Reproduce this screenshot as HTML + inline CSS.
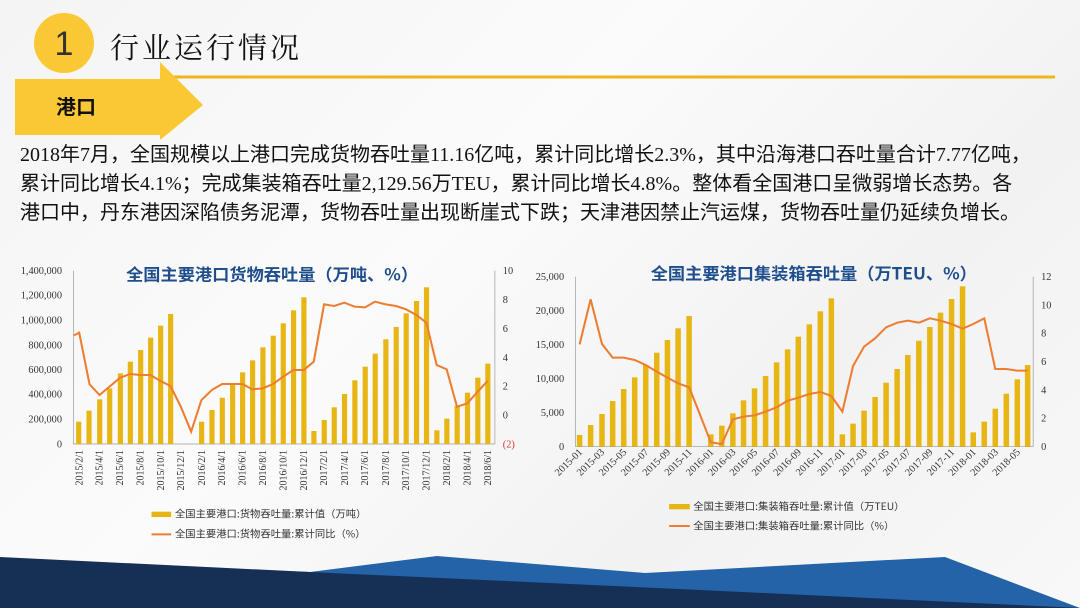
<!DOCTYPE html>
<html><head><meta charset="utf-8"><style>
html,body{margin:0;padding:0}
body{width:1080px;height:608px;position:relative;overflow:hidden;background:linear-gradient(135deg,#f4f4f4,#fbfbfb 40%,#f2f2f2 70%,#f8f8f8);font-family:"Liberation Sans","Noto Sans CJK SC",sans-serif}
.abs{position:absolute}
#para{left:20px;top:141px;width:1060px;font-size:20px;line-height:29px;color:#111;font-family:"Liberation Serif","Noto Sans CJK SC",sans-serif;white-space:nowrap}
</style></head><body>
<svg class="abs" style="left:0;top:0" width="1080" height="608">
<polygon points="0,560 310,572 437,556 645,573 945,557 1080,608 0,608" fill="#2563a8"/>
<polygon points="0,557 310,572 700,590 1080,608 0,608" fill="#152f55"/>
<line x1="165" y1="77" x2="1055" y2="77" stroke="#f0b41c" stroke-width="3"/>
<polygon points="15,79 160,79 160,62 203,105 160,140 160,135 15,135" fill="#f9c834"/>
<circle cx="64" cy="43" r="30" fill="#f9c834"/>
<text x="64" y="55" font-size="34" text-anchor="middle" fill="#333" font-family="Liberation Sans,sans-serif">1</text>
<text x="110" y="58" font-size="29" fill="#111" font-family="Noto Serif CJK SC,serif" letter-spacing="3">行业运行情况</text>
<text x="56" y="114" font-size="20" font-weight="bold" fill="#111" font-family="Noto Sans CJK SC,sans-serif">港口</text>
</svg>
<div id="para" class="abs">2018年7月，全国规模以上港口完成货物吞吐量11.16亿吨，累计同比增长2.3%，其中沿海港口吞吐量合计7.77亿吨，<br>累计同比增长4.1%；完成集装箱吞吐量2,129.56万TEU，累计同比增长4.8%。整体看全国港口呈微弱增长态势。各<br>港口中，丹东港因深陷债务泥潭，货物吞吐量出现断崖式下跌；天津港因禁止汽运煤，货物吞吐量仍延续负增长。</div>

<!-- LEFT CHART -->
<svg class="abs" style="left:0;top:250px" width="540" height="300" viewBox="0 0 1568 900" preserveAspectRatio="none" font-family="Liberation Serif,serif">
<text x="790" y="92" font-size="50" font-weight="bold" fill="#1f4e8c" text-anchor="middle" font-family="Noto Sans CJK SC,sans-serif">全国主要港口货物吞吐量（万吨、%）</text>
<line x1="213" y1="62" x2="213" y2="582" stroke="#999" stroke-width="2"/>
<line x1="213" y1="582" x2="1437" y2="582" stroke="#999" stroke-width="2"/>
<line x1="1437" y1="62" x2="1437" y2="582" stroke="#999" stroke-width="2"/>
<g font-size="30" fill="#333" text-anchor="end">
<text x="180" y="72">1,400,000</text><text x="180" y="146">1,200,000</text><text x="180" y="220">1,000,000</text><text x="180" y="295">800,000</text><text x="180" y="369">600,000</text><text x="180" y="443">400,000</text><text x="180" y="518">200,000</text><text x="180" y="592">0</text>
</g>
<g font-size="30" fill="#333">
<text x="1460" y="72">10</text><text x="1460" y="159">8</text><text x="1460" y="246">6</text><text x="1460" y="333">4</text><text x="1460" y="419">2</text><text x="1460" y="506">0</text><text x="1460" y="592" fill="#e03030">(2)</text>
</g>
<g fill="#e7b614">
<rect x="221" y="515" width="15" height="67"/><rect x="251" y="482" width="15" height="100"/><rect x="282" y="448" width="15" height="134"/><rect x="311" y="415" width="15" height="167"/><rect x="342" y="370" width="15" height="212"/><rect x="371" y="335" width="15" height="247"/><rect x="401" y="300" width="15" height="282"/><rect x="430" y="263" width="15" height="319"/><rect x="459" y="227" width="15" height="355"/><rect x="488" y="192" width="15" height="390"/>
<rect x="578" y="515" width="15" height="67"/><rect x="608" y="480" width="15" height="102"/><rect x="638" y="443" width="15" height="139"/><rect x="668" y="404" width="15" height="178"/><rect x="697" y="367" width="15" height="215"/><rect x="726" y="331" width="15" height="251"/><rect x="756" y="292" width="15" height="290"/><rect x="786" y="257" width="15" height="325"/><rect x="815" y="220" width="15" height="362"/><rect x="845" y="181" width="15" height="401"/><rect x="875" y="142" width="15" height="440"/>
<rect x="904" y="543" width="15" height="39"/><rect x="934" y="510" width="15" height="72"/><rect x="963" y="472" width="15" height="110"/><rect x="993" y="432" width="15" height="150"/><rect x="1023" y="391" width="15" height="191"/><rect x="1053" y="350" width="15" height="232"/><rect x="1082" y="311" width="15" height="271"/><rect x="1113" y="268" width="15" height="314"/><rect x="1143" y="231" width="15" height="351"/><rect x="1172" y="190" width="15" height="392"/><rect x="1202" y="153" width="15" height="429"/><rect x="1231" y="112" width="15" height="470"/>
<rect x="1261" y="541" width="15" height="41"/><rect x="1290" y="506" width="15" height="76"/><rect x="1320" y="467" width="15" height="115"/><rect x="1350" y="428" width="15" height="154"/><rect x="1380" y="383" width="15" height="199"/><rect x="1409" y="341" width="15" height="241"/>
</g>
<polyline fill="none" stroke="#ed7d31" stroke-width="6" points="215,256 230,248 260,403 289,435 318,410 349,383 378,372 408,375 437,375 466,393 495,408 525,470 555,545 585,450 615,420 645,402 675,402 704,402 733,418 763,415 793,402 822,380 852,360 882,360 911,335 941,163 970,168 1000,158 1030,170 1060,172 1089,155 1120,163 1150,168 1179,178 1209,195 1238,218 1268,345 1297,358 1327,470 1357,460 1387,425 1416,393"/>
<g font-size="30" fill="#333" text-anchor="end">
<text transform="translate(239,600) rotate(-90)">2015/2/1</text><text transform="translate(298,600) rotate(-90)">2015/4/1</text><text transform="translate(357,600) rotate(-90)">2015/6/1</text><text transform="translate(416,600) rotate(-90)">2015/8/1</text><text transform="translate(476,600) rotate(-90)">2015/10/1</text><text transform="translate(535,600) rotate(-90)">2015/12/1</text><text transform="translate(595,600) rotate(-90)">2016/2/1</text><text transform="translate(654,600) rotate(-90)">2016/4/1</text><text transform="translate(713,600) rotate(-90)">2016/6/1</text><text transform="translate(772,600) rotate(-90)">2016/8/1</text><text transform="translate(832,600) rotate(-90)">2016/10/1</text><text transform="translate(891,600) rotate(-90)">2016/12/1</text><text transform="translate(950,600) rotate(-90)">2017/2/1</text><text transform="translate(1010,600) rotate(-90)">2017/4/1</text><text transform="translate(1069,600) rotate(-90)">2017/6/1</text><text transform="translate(1129,600) rotate(-90)">2017/8/1</text><text transform="translate(1188,600) rotate(-90)">2017/10/1</text><text transform="translate(1247,600) rotate(-90)">2017/12/1</text><text transform="translate(1306,600) rotate(-90)">2018/2/1</text><text transform="translate(1366,600) rotate(-90)">2018/4/1</text><text transform="translate(1425,600) rotate(-90)">2018/6/1</text>
</g>
<rect x="440" y="785" width="57" height="16" fill="#e7b614"/>
<line x1="440" y1="853" x2="497" y2="853" stroke="#ed7d31" stroke-width="6"/>
<g font-size="30" fill="#333" font-family="Noto Sans CJK SC,sans-serif">
<text x="508" y="803">全国主要港口:货物吞吐量:累计值（万吨）</text>
<text x="508" y="863">全国主要港口:货物吞吐量:累计同比（%）</text>
</g>
</svg>

<!-- RIGHT CHART -->
<svg class="abs" style="left:540px;top:250px" width="540" height="300" viewBox="0 0 1568 900" preserveAspectRatio="none" font-family="Liberation Serif,serif" overflow="visible">
<text x="795" y="88" font-size="50" font-weight="bold" fill="#1f4e8c" text-anchor="middle" font-family="Noto Sans CJK SC,sans-serif">全国主要港口集装箱吞吐量（万TEU、%）</text>
<line x1="103" y1="80" x2="103" y2="590" stroke="#999" stroke-width="2"/>
<line x1="103" y1="590" x2="1432" y2="590" stroke="#999" stroke-width="2"/>
<line x1="1432" y1="80" x2="1432" y2="590" stroke="#999" stroke-width="2"/>
<g font-size="30" fill="#333" text-anchor="end">
<text x="70" y="90">25,000</text><text x="70" y="192">20,000</text><text x="70" y="294">15,000</text><text x="70" y="396">10,000</text><text x="70" y="498">5,000</text><text x="70" y="600">0</text>
</g>
<g font-size="30" fill="#333">
<text x="1455" y="90">12</text><text x="1455" y="175">10</text><text x="1455" y="260">8</text><text x="1455" y="345">6</text><text x="1455" y="430">4</text><text x="1455" y="515">2</text><text x="1455" y="600">0</text>
</g>
<g fill="#e7b614">
<rect x="107" y="555" width="16" height="35"/><rect x="139" y="525" width="16" height="65"/><rect x="172" y="492" width="16" height="98"/><rect x="203" y="453" width="16" height="137"/><rect x="235" y="417" width="16" height="173"/><rect x="267" y="382" width="16" height="208"/><rect x="299" y="345" width="16" height="245"/><rect x="331" y="308" width="16" height="282"/><rect x="362" y="270" width="16" height="320"/><rect x="393" y="235" width="16" height="355"/><rect x="425" y="198" width="16" height="392"/>
<rect x="488" y="553" width="16" height="37"/><rect x="520" y="527" width="16" height="63"/><rect x="552" y="490" width="16" height="100"/><rect x="583" y="451" width="16" height="139"/><rect x="615" y="415" width="16" height="175"/><rect x="647" y="378" width="16" height="212"/><rect x="679" y="337" width="16" height="253"/><rect x="711" y="298" width="16" height="292"/><rect x="742" y="260" width="16" height="330"/><rect x="774" y="223" width="16" height="367"/><rect x="806" y="184" width="16" height="406"/><rect x="838" y="145" width="16" height="445"/>
<rect x="870" y="553" width="16" height="37"/><rect x="901" y="521" width="16" height="69"/><rect x="933" y="482" width="16" height="108"/><rect x="965" y="441" width="16" height="149"/><rect x="997" y="398" width="16" height="192"/><rect x="1029" y="357" width="16" height="233"/><rect x="1060" y="315" width="16" height="275"/><rect x="1092" y="272" width="16" height="318"/><rect x="1124" y="231" width="16" height="359"/><rect x="1155" y="188" width="16" height="402"/><rect x="1187" y="147" width="16" height="443"/><rect x="1219" y="109" width="16" height="481"/>
<rect x="1250" y="547" width="16" height="43"/><rect x="1282" y="515" width="16" height="75"/><rect x="1314" y="476" width="16" height="114"/><rect x="1346" y="431" width="16" height="159"/><rect x="1378" y="388" width="16" height="202"/><rect x="1408" y="345" width="16" height="245"/>
</g>
<polyline fill="none" stroke="#ed7d31" stroke-width="6" points="115,283 147,148 180,282 211,323 243,323 275,330 307,345 339,365 370,383 401,400 433,412 465,495 496,577 528,582 560,508 591,500 623,496 655,485 687,472 719,452 750,443 782,432 814,426 846,438 878,485 909,348 941,290 973,265 1005,232 1037,218 1068,212 1100,218 1132,205 1163,212 1195,222 1227,236 1258,222 1290,205 1322,357 1354,357 1386,362 1416,362"/>
<g font-size="30" fill="#333" text-anchor="end">
<text transform="translate(125,608) rotate(-45)">2015-01</text><text transform="translate(189,608) rotate(-45)">2015-03</text><text transform="translate(253,608) rotate(-45)">2015-05</text><text transform="translate(317,608) rotate(-45)">2015-07</text><text transform="translate(380,608) rotate(-45)">2015-09</text><text transform="translate(443,608) rotate(-45)">2015-11</text><text transform="translate(506,608) rotate(-45)">2016-01</text><text transform="translate(570,608) rotate(-45)">2016-03</text><text transform="translate(633,608) rotate(-45)">2016-05</text><text transform="translate(697,608) rotate(-45)">2016-07</text><text transform="translate(760,608) rotate(-45)">2016-09</text><text transform="translate(824,608) rotate(-45)">2016-11</text><text transform="translate(888,608) rotate(-45)">2017-01</text><text transform="translate(951,608) rotate(-45)">2017-03</text><text transform="translate(1015,608) rotate(-45)">2017-05</text><text transform="translate(1078,608) rotate(-45)">2017-07</text><text transform="translate(1142,608) rotate(-45)">2017-09</text><text transform="translate(1205,608) rotate(-45)">2017-11</text><text transform="translate(1268,608) rotate(-45)">2018-01</text><text transform="translate(1332,608) rotate(-45)">2018-03</text><text transform="translate(1396,608) rotate(-45)">2018-05</text>
</g>
<rect x="375" y="762" width="60" height="16" fill="#e7b614"/>
<line x1="375" y1="828" x2="435" y2="828" stroke="#ed7d31" stroke-width="6"/>
<g font-size="30" fill="#333" font-family="Noto Sans CJK SC,sans-serif">
<text x="445" y="780">全国主要港口:集装箱吞吐量:累计值（万TEU）</text>
<text x="445" y="838">全国主要港口:集装箱吞吐量:累计同比（%）</text>
</g>
</svg>
</body></html>
